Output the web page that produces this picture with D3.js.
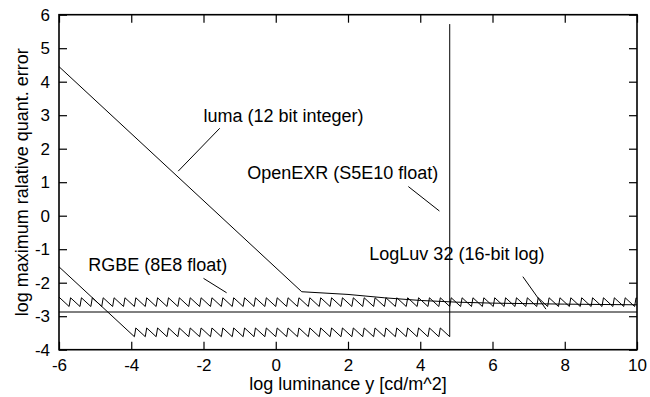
<!DOCTYPE html>
<html>
<head>
<meta charset="utf-8">
<script src="https://cdn.jsdelivr.net/npm/d3@7"></script>
<style>
  body { margin: 0; background: #fff; }
  text { font-family: "Liberation Sans", Arial, Helvetica, sans-serif; fill: #000; }
</style>
</head>
<body>
<svg id="chart" width="650" height="397"></svg>
<script>
// Axis ticks
const xTicks = [-6, -4, -2, 0, 2, 4, 6, 8, 10];
const yTicks = [-4, -3, -2, -1, 0, 1, 2, 3, 4, 5, 6];

// luma (12 bit integer): log luminance / log error
const lumaX = [-6, 0.72, 2, 3, 4, 5, 6, 8, 10];
const lumaY = [4.45, -2.27, -2.35, -2.45, -2.53, -2.58, -2.61, -2.64, -2.66];

// RGBE (8E8 float): error band and the octave boundaries where it jumps
const rgbeHigh = -2.41;
const rgbeLow = -2.71;
const rgbeJumps = [-5.72, -5.419, -5.118, -4.817, -4.515, -4.214, -3.913, -3.612,
  -3.311, -3.01, -2.709, -2.408, -2.107, -1.806, -1.505, -1.204, -0.903, -0.602,
  -0.301, 0, 0.301, 0.602, 0.903, 1.204, 1.505, 1.806, 2.107, 2.408, 2.709, 3.01,
  3.311, 3.612, 3.913, 4.214, 4.515, 4.817, 5.118, 5.419, 5.72, 6.021, 6.322,
  6.623, 6.924, 7.225, 7.526, 7.827, 8.128, 8.429, 8.73, 9.031, 9.332, 9.633, 9.934];
const rgbeStart = [-6, -2.43];
const rgbeEnd = [10, -2.476];

// OpenEXR (S5E10 float): denormal start, error band, octave jumps, overflow
const exrStart = [-6, -1.526];
const exrHigh = -3.311;
const exrLow = -3.612;
const exrJumps = [-3.913, -3.612, -3.311, -3.01, -2.709, -2.408, -2.107, -1.806,
  -1.505, -1.204, -0.903, -0.602, -0.301, 0, 0.301, 0.602, 0.903, 1.204, 1.505,
  1.806, 2.107, 2.408, 2.709, 3.01, 3.311, 3.612, 3.913, 4.214, 4.515];
const exrMaxX = 4.816;
const exrOverflowY = 5.72;

// LogLuv 32 (16-bit log): constant error
const logluvX = [-6, 10];
const logluvY = [-2.875, -2.875];

// Labels with leader lines, in data coordinates
const labels = [
  { text: "luma (12 bit integer)", at: [-2.0, 2.8], from: [-1.55, 2.61], to: [-2.7, 1.33] },
  { text: "OpenEXR (S5E10 float)", at: [-0.79, 1.09], from: [3.67, 0.87], to: [4.53, 0.14] },
  { text: "RGBE (8E8 float)", at: [-5.19, -1.64], from: [-2.0, -1.87], to: [-1.36, -2.30] },
  { text: "LogLuv 32 (16-bit log)", at: [2.59, -1.32], from: [6.84, -1.82], to: [7.48, -2.79] }
];

const W = 650, H = 397;
const plot = { left: 59, right: 637, top: 14.7, bottom: 349.7 };

const x = d3.scaleLinear().domain([-6, 10]).range([plot.left, plot.right]);
const y = d3.scaleLinear().domain([-4, 6]).range([plot.bottom, plot.top]);

const svg = d3.select("#chart");
svg.append("rect").attr("width", W).attr("height", H).attr("fill", "#fff");

const line = d3.line().x(d => x(d[0])).y(d => y(d[1]));

// Sawtooth vertices: slope -1 descent within each octave, jump at each boundary
const rise = 0.04;
function sawtooth(start, jumps, high, low, end) {
  const pts = [start];
  jumps.forEach(b => {
    pts.push([b, low]);
    pts.push([b + rise, high - rise]);
  });
  if (end) pts.push(end);
  return pts;
}

const series = [];
series.push(lumaX.map((v, i) => [v, lumaY[i]]));
series.push(sawtooth(rgbeStart, rgbeJumps, rgbeHigh, rgbeLow, rgbeEnd));
const exrPts = sawtooth(exrStart, exrJumps, exrHigh, exrLow, null);
exrPts.push([exrMaxX, exrLow]);
exrPts.push([exrMaxX, exrOverflowY]);
series.push(exrPts);
series.push(logluvX.map((v, i) => [v, logluvY[i]]));

const clipId = "plotclip";
svg.append("clipPath").attr("id", clipId).append("rect")
  .attr("x", plot.left).attr("y", plot.top)
  .attr("width", plot.right - plot.left).attr("height", plot.bottom - plot.top);

svg.append("g").attr("clip-path", `url(#${clipId})`)
  .selectAll("path").data(series).join("path")
  .attr("d", line)
  .attr("fill", "none")
  .attr("stroke", "#000")
  .attr("stroke-width", 1)
  .attr("stroke-linejoin", "miter");

// Axes: ticks inward on all four sides, labels on left and bottom
const tickLen = 8;
const fontTick = "17px";

const gB = svg.append("g").attr("transform", `translate(0,${plot.bottom})`)
  .call(d3.axisBottom(x).tickValues(xTicks).tickSizeInner(-tickLen).tickSizeOuter(0).tickPadding(9).tickFormat(d3.format("d")));
const gT = svg.append("g").attr("transform", `translate(0,${plot.top})`)
  .call(d3.axisTop(x).tickValues(xTicks).tickSizeInner(-tickLen).tickSizeOuter(0).tickFormat(""));
const gL = svg.append("g").attr("transform", `translate(${plot.left},0)`)
  .call(d3.axisLeft(y).tickValues(yTicks).tickSizeInner(-tickLen).tickSizeOuter(0).tickPadding(9).tickFormat(d3.format("d")));
const gR = svg.append("g").attr("transform", `translate(${plot.right},0)`)
  .call(d3.axisRight(y).tickValues(yTicks).tickSizeInner(-tickLen).tickSizeOuter(0).tickFormat(""));

[gB, gT, gL, gR].forEach(g => {
  g.select(".domain").remove();
  g.selectAll(".tick line").attr("stroke", "#000").attr("stroke-width", 1.2);
  g.selectAll("text").attr("font-size", fontTick)
    .attr("font-family", '"Liberation Sans", Arial, Helvetica, sans-serif')
    .attr("fill", "#000")
    .text(function () { return d3.select(this).text().replace("−", "-"); });
});

// Plot frame
svg.append("rect")
  .attr("x", plot.left).attr("y", plot.top)
  .attr("width", plot.right - plot.left).attr("height", plot.bottom - plot.top)
  .attr("fill", "none").attr("stroke", "#000").attr("stroke-width", 1.6);

// Axis titles
svg.append("text")
  .attr("x", (plot.left + plot.right) / 2).attr("y", 390)
  .attr("text-anchor", "middle").attr("font-size", "18px")
  .text("log luminance y [cd/m^2]");

svg.append("text")
  .attr("transform", `translate(27.5,${(plot.top + plot.bottom) / 2}) rotate(-90)`)
  .attr("text-anchor", "middle").attr("font-size", "18px")
  .text("log maximum ralative quant. error");

// Series labels and leader lines
const gLab = svg.append("g");
labels.forEach(l => {
  gLab.append("text")
    .attr("x", x(l.at[0])).attr("y", y(l.at[1]))
    .attr("font-size", "18px")
    .text(l.text);
  gLab.append("line")
    .attr("x1", x(l.from[0])).attr("y1", y(l.from[1]))
    .attr("x2", x(l.to[0])).attr("y2", y(l.to[1]))
    .attr("stroke", "#000").attr("stroke-width", 1);
});
</script>
</body>
</html>
